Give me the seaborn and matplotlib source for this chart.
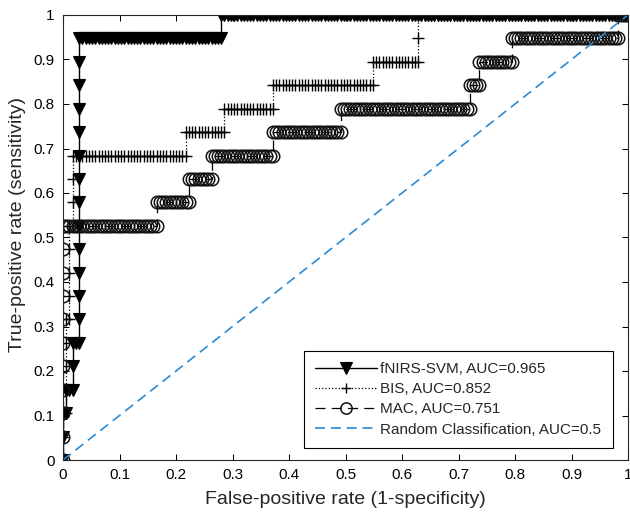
import numpy as np
import pandas as pd
import matplotlib
matplotlib.use("Agg")
import matplotlib.pyplot as plt
import seaborn as sns

# ---- data ----
N_NEG = 175   # negative cases (grid of FPR operating points)
N_POS = 19    # positive cases (grid of TPR operating points)

fnirs_fpr = [0, 0, 0.006, 0.006, 0.017, 0.017, 0.029, 0.029, 0.28, 0.28, 1.0]
fnirs_tpr = [0, 0.105, 0.105, 0.158, 0.158, 0.263, 0.263, 0.947, 0.947, 1.0, 1.0]

bis_fpr = [0, 0, 0.006, 0.006, 0.012, 0.012, 0.017, 0.017, 0.215, 0.215,
           0.285, 0.285, 0.372, 0.372, 0.55, 0.55, 0.628, 0.628, 1.0]
bis_tpr = [0, 0.105, 0.105, 0.316, 0.316, 0.526, 0.526, 0.684, 0.684, 0.737,
           0.737, 0.789, 0.789, 0.842, 0.842, 0.895, 0.895, 1.0, 1.0]

mac_fpr = [0, 0, 0.168, 0.168, 0.222, 0.222, 0.262, 0.262, 0.373, 0.373,
           0.492, 0.492, 0.722, 0.722, 0.735, 0.735, 0.795, 0.795, 0.98, 0.98, 1.0]
mac_tpr = [0, 0.526, 0.526, 0.579, 0.579, 0.632, 0.632, 0.684, 0.684, 0.737,
           0.737, 0.789, 0.789, 0.842, 0.842, 0.895, 0.895, 0.947, 0.947, 1.0, 1.0]

rand_fpr = [0, 1]
rand_tpr = [0, 1]

labels = ["fNIRS-SVM, AUC=0.965", "BIS, AUC=0.852", "MAC, AUC=0.751",
          "Random Classification, AUC=0.5"]
ticks = [0, 0.1, 0.2, 0.3, 0.4, 0.5, 0.6, 0.7, 0.8, 0.9, 1]
tick_labels = ["0", "0.1", "0.2", "0.3", "0.4", "0.5", "0.6", "0.7", "0.8", "0.9", "1"]


def roc_points(fpr_c, tpr_c):
    """Expand step corners into the ROC operating points (one per case)."""
    xs, ys = [fpr_c[0]], [tpr_c[0]]
    for (x0, y0, x1, y1) in zip(fpr_c[:-1], tpr_c[:-1], fpr_c[1:], tpr_c[1:]):
        i0, i1 = round(x0 * N_NEG), round(x1 * N_NEG)
        j0, j1 = round(y0 * N_POS), round(y1 * N_POS)
        for j in range(j0 + 1, j1 + 1):
            xs.append(i0 / N_NEG); ys.append(j / N_POS)
        for i in range(i0 + 1, i1 + 1):
            xs.append(i / N_NEG); ys.append(j1 / N_POS)
    return pd.DataFrame({"fpr": xs, "tpr": ys})


sns.set_style("ticks")
plt.rcParams["font.family"] = ["Liberation Sans", "DejaVu Sans"]

fig = plt.figure(figsize=(6.3, 5.19), dpi=100)
ax = fig.add_axes([63 / 630, 1 - 460 / 519, 565 / 630, 445 / 519])

d1 = roc_points(fnirs_fpr, fnirs_tpr)
d2 = roc_points(bis_fpr, bis_tpr)
d3 = roc_points(mac_fpr, mac_tpr)
d4 = pd.DataFrame({"fpr": rand_fpr, "tpr": rand_tpr})

sns.lineplot(data=d1, x="fpr", y="tpr", sort=False, estimator=None, ax=ax,
             color="black", lw=1.0, marker="v", markersize=9,
             markerfacecolor="black", markeredgecolor="black",
             markeredgewidth=0.8, label=labels[0])
sns.lineplot(data=d2, x="fpr", y="tpr", sort=False, estimator=None, ax=ax,
             color="black", lw=0.9, linestyle=":", marker="+", markersize=8.5,
             markeredgecolor="black", markeredgewidth=1.0, label=labels[1])
sns.lineplot(data=d3, x="fpr", y="tpr", sort=False, estimator=None, ax=ax,
             color="black", lw=0.9, dashes=(8, 5), marker="o", markersize=9,
             markerfacecolor="none", markeredgecolor="#111111",
             markeredgewidth=1.1, label=labels[2])
sns.lineplot(data=d4, x="fpr", y="tpr", sort=False, estimator=None, ax=ax,
             color="#2a8ad4", lw=1.2, dashes=(6, 3.5), label=labels[3])

ax.set_xlim(0, 1)
ax.set_ylim(0, 1)
ax.set_xticks(ticks)
ax.set_xticklabels(tick_labels)
ax.set_yticks(ticks)
ax.set_yticklabels(tick_labels)
ax.tick_params(direction="in", length=4, width=0.75, top=True, right=True,
               labelsize=11, pad=6, colors="black")
for s in ax.spines.values():
    s.set_visible(True)
    s.set_color("#262626")
    s.set_linewidth(0.8)

ax.set_xlabel("False-positive rate (1-specificity)", fontsize=14, labelpad=6)
ax.set_ylabel("True-positive rate (sensitivity)", fontsize=14)
ax.yaxis.set_label_coords(-0.066, 0.53)

leg = ax.legend(loc="lower right", bbox_to_anchor=(0.973, 0.027), fontsize=11,
                handlelength=4.05, handletextpad=0.2, labelspacing=0.4,
                borderpad=0.75, fancybox=False, framealpha=1, edgecolor="black",
                numpoints=1, borderaxespad=0, markerscale=0.9)
leg.get_frame().set_linewidth(0.8)

fig.savefig("out.png", dpi=100)
